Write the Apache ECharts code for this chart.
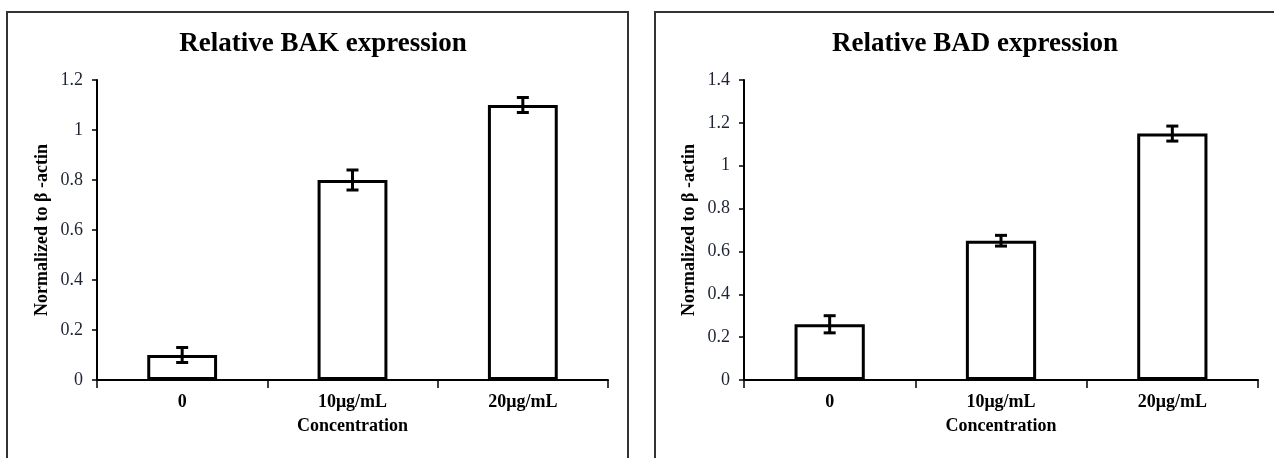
<!DOCTYPE html>
<html>
<head>
<meta charset="utf-8">
<script src="https://cdn.jsdelivr.net/npm/echarts@6/dist/echarts.min.js"></script>
<style>
  html, body { margin: 0; padding: 0; background: #fff; }
  #chart { width: 1274px; height: 458px; }
</style>
</head>
<body>
<div id="chart"></div>
<script>
// categories and values
const categories = ['0', '10μg/mL', '20μg/mL']
const bakValues = [0.1, 0.8, 1.1]
const bakErrors = [0.03, 0.04, 0.03]
const badValues = [0.26, 0.65, 1.15]
const badErrors = [0.04, 0.025, 0.035]
const titles = ['Relative BAK expression', 'Relative BAD expression']
const yMax = [1.2, 1.4]

const serif = "'Liberation Serif', 'Times New Roman', serif"

// error bar drawn with the axis scales
const errorRender = (params, api) => {
  const x = api.value(0)
  const lo = api.coord([x, api.value(1)])
  const hi = api.coord([x, api.value(2)])
  const half = 6
  const style = { stroke: '#000', lineWidth: 3 }
  return {
    type: 'group',
    children: [
      { type: 'line', shape: { x1: lo[0], y1: lo[1], x2: hi[0], y2: hi[1] }, style },
      { type: 'line', shape: { x1: hi[0] - half, y1: hi[1], x2: hi[0] + half, y2: hi[1] }, style },
      { type: 'line', shape: { x1: lo[0] - half, y1: lo[1], x2: lo[0] + half, y2: lo[1] }, style }
    ]
  }
}

const errData = (vals, errs) => vals.map((v, i) => [i, v - errs[i], v + errs[i]])

const xAxisFor = (gridIndex) => ({
  type: 'category',
  gridIndex,
  data: categories,
  name: 'Concentration',
  nameLocation: 'middle',
  nameGap: 37,
  nameTextStyle: { fontFamily: serif, fontWeight: 'bold', fontSize: 18, color: '#000' },
  axisLine: { lineStyle: { color: '#000', width: 2 } },
  axisTick: { show: true, interval: 0, length: 8, lineStyle: { color: '#000', width: 1.5 } },
  axisLabel: { fontFamily: serif, fontWeight: 'bold', fontSize: 18, color: '#000', margin: 13 },
  splitLine: { show: false }
})

const yAxisFor = (gridIndex, max) => ({
  type: 'value',
  gridIndex,
  min: 0,
  max,
  interval: 0.2,
  name: 'Normalized to β -actin',
  nameLocation: 'middle',
  nameGap: 46,
  nameTextStyle: { fontFamily: serif, fontWeight: 'bold', fontSize: 18, color: '#000' },
  axisLine: { show: true, lineStyle: { color: '#000', width: 2 } },
  axisTick: { show: true, length: 5, lineStyle: { color: '#000', width: 1.5 } },
  axisLabel: { fontFamily: serif, fontSize: 18, color: '#1c2333', margin: 14 },
  splitLine: { show: false }
})

const barSeries = (idx, data) => ({
  type: 'bar',
  xAxisIndex: idx,
  yAxisIndex: idx,
  data,
  barWidth: '41%',
  itemStyle: { color: '#fff', borderColor: '#000', borderWidth: 3 },
  animation: false
})

const errSeries = (idx, data) => ({
  type: 'custom',
  xAxisIndex: idx,
  yAxisIndex: idx,
  data,
  renderItem: errorRender,
  z: 5,
  animation: false
})

const chart = echarts.init(document.getElementById('chart'))
chart.setOption({
  backgroundColor: '#fff',
  animation: false,
  title: [
    { text: titles[0], left: 318, top: 26, textAlign: 'center',
      textStyle: { fontFamily: serif, fontWeight: 'bold', fontSize: 27, color: '#000' } },
    { text: titles[1], left: 970, top: 26, textAlign: 'center',
      textStyle: { fontFamily: serif, fontWeight: 'bold', fontSize: 27, color: '#000' } }
  ],
  graphic: [
    { type: 'rect', shape: { x: 7, y: 12, width: 621, height: 460 },
      style: { fill: 'none', stroke: '#333', lineWidth: 2 }, z: -1 },
    { type: 'rect', shape: { x: 655, y: 12, width: 640, height: 460 },
      style: { fill: 'none', stroke: '#333', lineWidth: 2 }, z: -1 }
  ],
  grid: [
    { left: 97, right: 666, top: 80, bottom: 78 },
    { left: 744, right: 16, top: 80, bottom: 78 }
  ],
  xAxis: [xAxisFor(0), xAxisFor(1)],
  yAxis: [yAxisFor(0, yMax[0]), yAxisFor(1, yMax[1])],
  series: [
    barSeries(0, bakValues),
    errSeries(0, errData(bakValues, bakErrors)),
    barSeries(1, badValues),
    errSeries(1, errData(badValues, badErrors))
  ]
})
</script>
</body>
</html>
